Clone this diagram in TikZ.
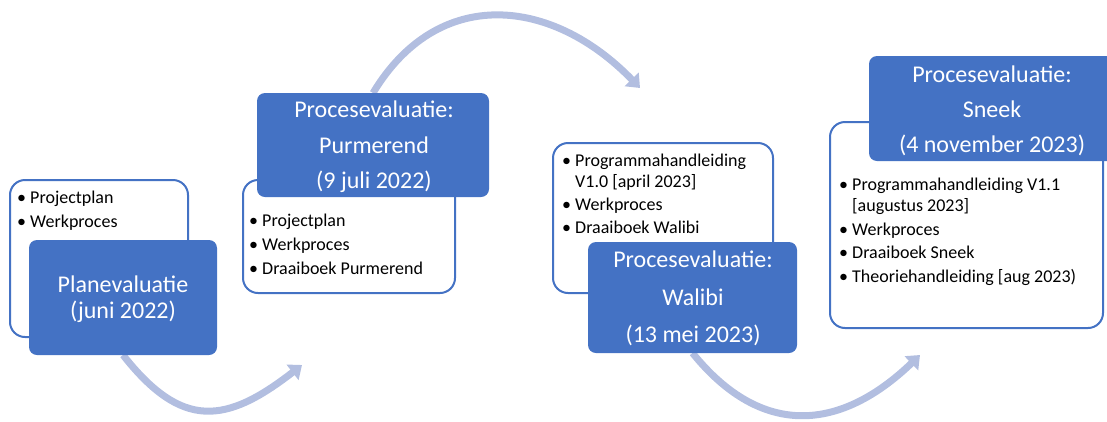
\documentclass[tikz,border=0pt]{standalone}
\usepackage{fontspec}
\setmainfont{Carlito}
\usetikzlibrary{arrows.meta}
\definecolor{blueC}{HTML}{4472C4}
\definecolor{arrowC}{RGB}{178,190,224}
\pgfdeclarelayer{background}
\pgfsetlayers{background,main}
\newcommand\bul{\makebox[13pt][l]{•}}
\tikzset{
  listbox/.style={draw=blueC, line width=2pt, rounded corners=15pt, fill=white, inner sep=0pt, outer sep=0pt, anchor=north west},
  titlebox/.style={fill=blueC, rounded corners=8pt, inner sep=0pt, outer sep=0pt, anchor=north west},
  ttl/.style={text=white, font=\fontsize{24}{28}\selectfont, anchor=base, inner sep=0pt},
  itm/.style={text=black, font=\fontsize{18}{22}\selectfont, anchor=base west, inner sep=0pt},
  flow/.style={draw=arrowC, line width=7pt, -{Triangle[length=12pt,width=19pt]}}
}
\begin{document}
\begin{tikzpicture}[x=1pt,y=-1pt]
\useasboundingbox (0,0) rectangle (1107,421);
% panel 1
\node[listbox, minimum width=178pt, minimum height=157pt] (L1) at (10,180) {};
\node[titlebox, minimum width=188pt, minimum height=115pt] (T1) at (29,240) {};
\node[ttl] (t1a) at (123,292) {Planevaluatie};
\node[ttl] (t1b) at (123,318) {(juni 2022)};
\node[itm] (i1a) at (17,203) {\bul Projectplan};
\node[itm] (i1b) at (17,227) {\bul Werkproces};
% panel 2
\node[listbox, minimum width=212pt, minimum height=113pt] (L2) at (243,180) {};
\node[titlebox, minimum width=232pt, minimum height=104pt] (T2) at (257,93) {};
\node[ttl] (t2a) at (374,117) {Procesevaluatie:};
\node[ttl] (t2b) at (374,153) {Purmerend};
\node[ttl] (t2c) at (374,188) {(9 juli 2022)};
\node[itm] (i2a) at (249,226) {\bul Projectplan};
\node[itm] (i2b) at (249,250) {\bul Werkproces};
\node[itm] (i2c) at (249,274) {\bul Draaiboek Purmerend};
% panel 3
\node[listbox, minimum width=220pt, minimum height=150pt] (L3) at (553,143) {};
\node[titlebox, minimum width=209pt, minimum height=111pt] (T3) at (588,242) {};
\node[ttl] (t3a) at (693,267) {Procesevaluatie:};
\node[ttl] (t3b) at (693,305) {Walibi};
\node[ttl] (t3c) at (693,342) {(13 mei 2023)};
\node[itm] (i3a) at (562,166) {\bul Programmahandleiding};
\node[itm] (i3b) at (575,187) {V1.0 [april 2023]};
\node[itm] (i3c) at (562,210) {\bul Werkproces};
\node[itm] (i3d) at (562,233) {\bul Draaiboek Walibi};
% panel 4
\node[listbox, minimum width=273pt, minimum height=206pt] (L4) at (830,122) {};
\node[titlebox, minimum width=246pt, minimum height=105pt] (T4) at (869,56) {};
\node[ttl] (t4a) at (992,82) {Procesevaluatie:};
\node[ttl] (t4b) at (992,117) {Sneek};
\node[ttl] (t4c) at (992,152) {(4 november 2023)};
\node[itm] (i4a) at (839,190) {\bul Programmahandleiding V1.1};
\node[itm] (i4b) at (852,211) {[augustus 2023]};
\node[itm] (i4c) at (839,235) {\bul Werkproces};
\node[itm] (i4d) at (839,258) {\bul Draaiboek Sneek};
\node[itm] (i4e) at (839,282) {\bul Theoriehandleiding [aug 2023)};
% arrows
\coordinate (e1) at (302,365);
\coordinate (e2) at (640,88);
\coordinate (e3) at (920,355);
\begin{pgfonlayer}{background}
\draw[flow] (T1.south) .. controls (182,430) and (226,424) .. (e1);
\draw[flow] (T2.north) .. controls (438,-15) and (552,-3) .. (e2);
\draw[flow] (T3.south) .. controls (762,439) and (841,431) .. (e3);
\end{pgfonlayer}
\end{tikzpicture}
\end{document}
